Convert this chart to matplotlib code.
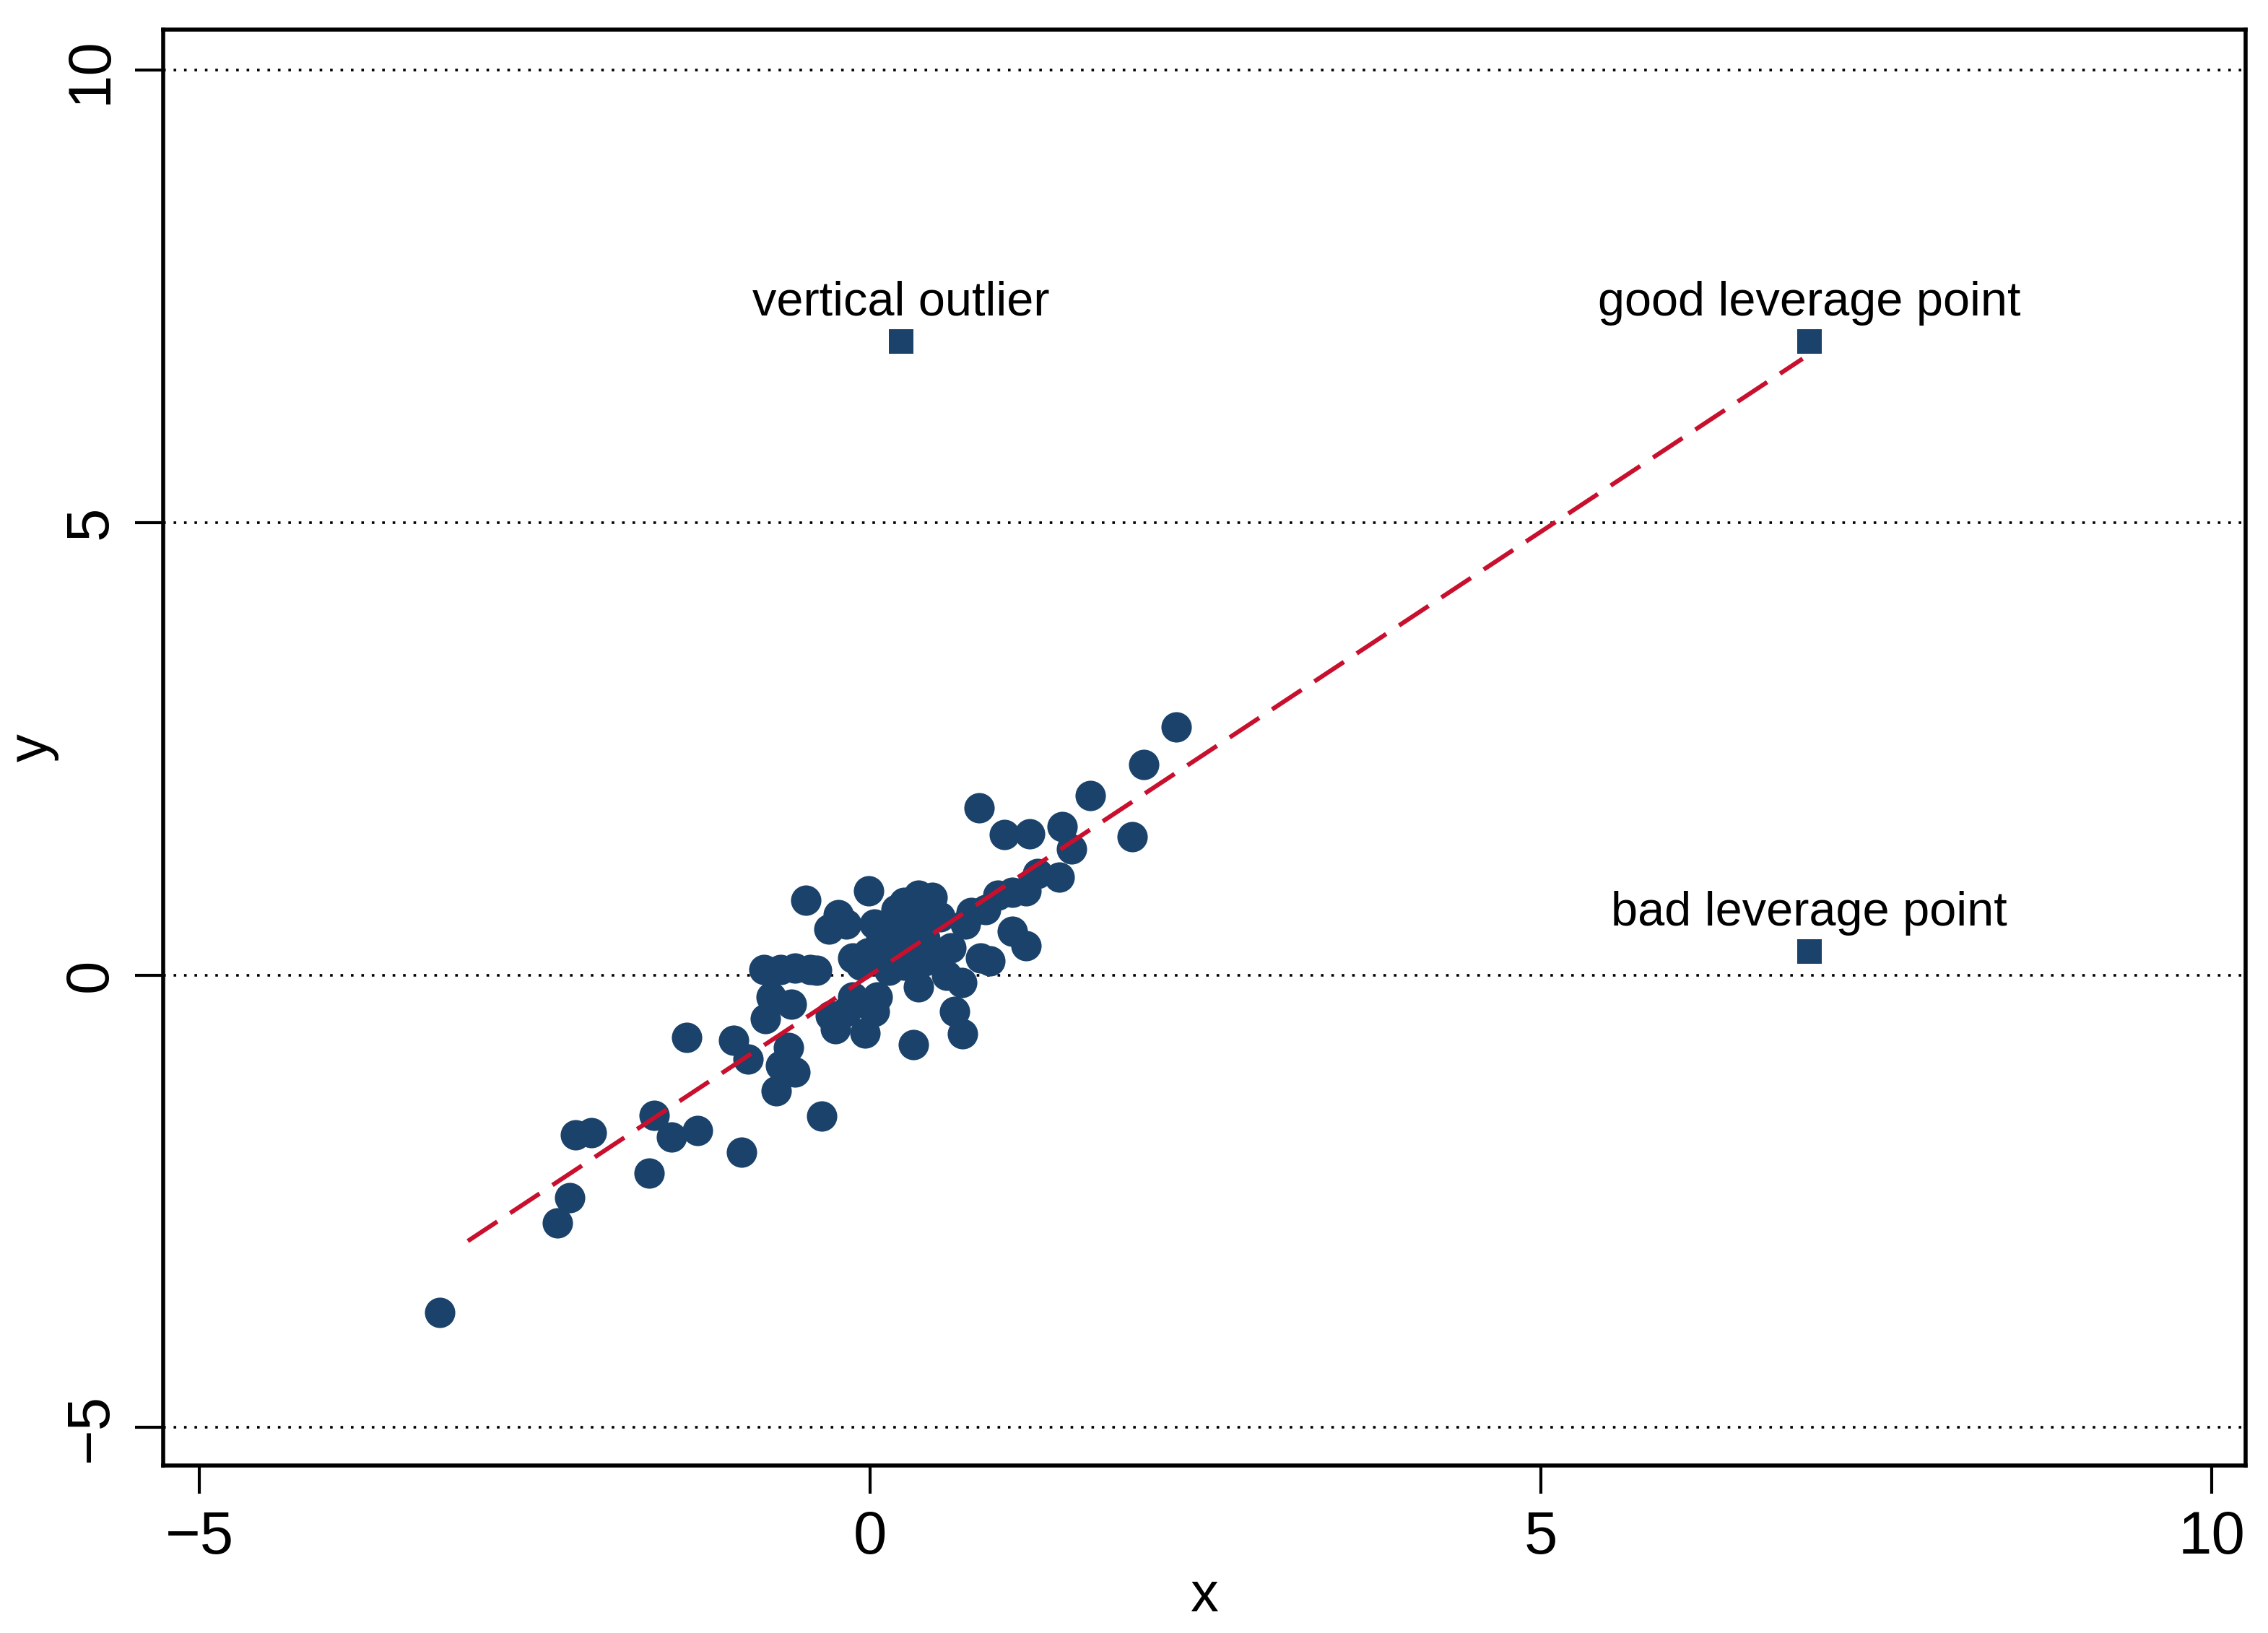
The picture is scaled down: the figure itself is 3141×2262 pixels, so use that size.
import numpy as np
import matplotlib.pyplot as plt

plt.rcParams['font.family'] = ['Liberation Sans', 'DejaVu Sans']

# main cloud of points
x_pts = [-3.21, -2.33, -2.24, -2.20, -2.08, -1.65, -1.61, -1.48, -1.29, -1.37,
         -0.96, -1.02, -0.91, -0.78, -0.74, -0.70, -0.67, -0.61, -0.56, -0.59,
         -0.79, -0.67, -0.56, -0.45, -0.40, -0.48, -0.36, -0.31, -0.24, -0.18,
         -0.26, -0.18, -0.13, -0.04, -0.01, 0.03, 0.05, -0.13, -0.02, 0.11,
         0.17, 0.19, 0.25, 0.30, 0.36, 0.46, 0.41, 0.32, 0.25, 0.36,
         0.50, 0.57, 0.63, 0.69, 0.68, 0.71, 0.75, 0.81, 0.82, 0.89,
         0.86, 0.95, 1.00, 1.06, 1.06, 1.16, 1.19, 1.25, 1.16, 1.41,
         1.43, 1.50, 1.64, 1.95, 2.04, 2.28, 0.19, 0.28, 0.14, 0.41,
         0.52, 0.03, -0.07, 0.22, 0.38, -0.30, 0.60, 0.08]
y_pts = [-3.73, -2.74, -2.46, -1.77, -1.74, -2.19, -1.55, -1.79, -1.72, -0.69,
         -1.96, -0.72, -0.93, -0.48, -0.24, -1.28, -1.00, -0.80, -1.07, -0.32,
         0.06, 0.06, 0.08, 0.06, 0.05, 0.83, -1.56, 0.51, 0.67, 0.56,
         -0.59, -0.40, -0.24, -0.64, 0.93, -0.40, -0.24, 0.19, 0.24, 0.24,
         0.40, 0.56, 0.80, 0.56, 0.88, 0.86, 0.40, -0.77, 0.11, -0.13,
         0.24, 0.00, -0.40, -0.65, -0.08, 0.56, 0.69, 1.85, 0.19, 0.16,
         0.72, 0.88, 1.55, 0.91, 0.48, 0.32, 1.56, 1.12, 0.93, 1.08,
         1.64, 1.39, 1.98, 1.53, 2.33, 2.74, 0.72, 0.32, 0.05, 0.16,
         0.64, 0.56, 0.11, 0.35, 0.70, -0.45, 0.30, 0.40]

# special points
special_x = [0.23, 7.0, 7.0]
special_y = [7.0, 7.0, 0.26]
special_labels = ['vertical outlier', 'good leverage point', 'bad leverage point']

# fitted line
fit_slope = 0.98
fit_intercept = 0.0
fit_range = [-3.0, 6.95]

navy = '#1a426a'
red = '#c8102e'

fig = plt.figure(figsize=(15.705, 11.31), dpi=200)
ax = fig.add_axes([0.072, 0.1026, 0.918, 0.8794])

for yv in [-5, 0, 5, 10]:
    ax.axhline(yv, color='black', linestyle=(0, (1, 3)), linewidth=1.3, zorder=0)

ax.scatter(x_pts, y_pts, s=230, color=navy, zorder=3, linewidths=0)
ax.scatter(special_x, special_y, s=150, marker='s', color=navy, zorder=3, linewidths=0)
for sx, sy, lab in zip(special_x, special_y, special_labels):
    ax.annotate(lab, (sx, sy), xytext=(0, 8), textcoords='offset points',
                ha='center', va='bottom', fontsize=24)

fx = np.array(fit_range)
ax.plot(fx, fit_intercept + fit_slope * fx, color=red, linestyle=(0, (8, 3.5)),
        linewidth=2.2, zorder=4)

ax.set_xlim(-5.27, 10.25)
ax.set_ylim(-5.42, 10.45)
ax.set_xticks([-5, 0, 5, 10])
ax.set_yticks([-5, 0, 5, 10])
ax.set_xticklabels(['\u22125', '0', '5', '10'])
ax.set_yticklabels(['\u22125', '0', '5', '10'], rotation=90, va='center')
ax.tick_params(axis='both', labelsize=30, length=14, width=1.5, direction='out', pad=8)
for s in ax.spines.values():
    s.set_linewidth(2)
ax.set_xlabel('x', fontsize=28, labelpad=2)
ax.set_ylabel('y', fontsize=28, labelpad=2)

fig.savefig('out.png', dpi=200)
